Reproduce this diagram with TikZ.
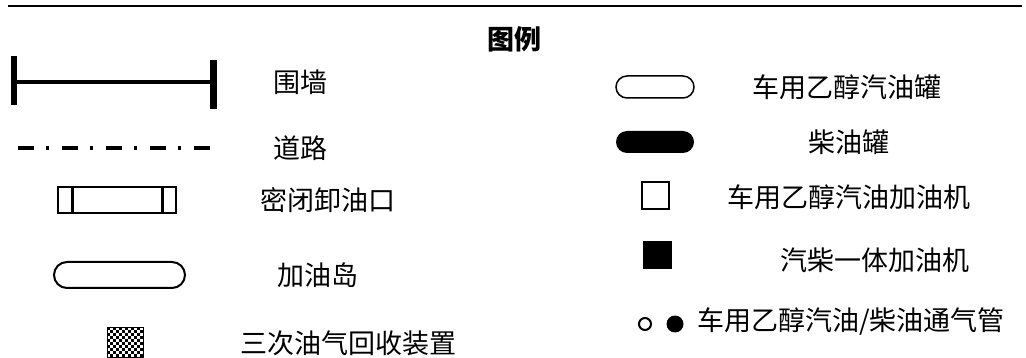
\documentclass[tikz,border=0pt]{standalone}
\usepackage{fontspec}
\setmainfont{Noto Sans CJK SC}

\begin{document}
\begin{tikzpicture}[x=1pt,y=-1pt,
    lbl/.style={anchor=west,inner sep=0pt,font=\fontsize{27}{32}\selectfont},
    ttl/.style={inner sep=0pt,font=\fontsize{27}{32}\selectfont\bfseries},
    edge/.style={line width=2pt}]
  \useasboundingbox (0,0) rectangle (1026,358);

  % top rule and title
  \draw[edge] (8,6) -- (1022,6);
  \node[ttl] (title) at (514,39) {图例};

  % left column symbols
  \fill (11,56) rectangle (17,105);
  \fill (210,60) rectangle (217,109);
  \draw[line width=4pt] (17,82) -- (210,82);                          % wall
  \draw[line width=4pt,dash pattern=on 16pt off 12pt on 3pt off 13pt]
    (18,148) -- (210,148);                                            % road
  \draw[line width=1.5pt] (58,187) rectangle (176,213);
  \draw[line width=3pt] (72,187) -- (72,213) (162,187) -- (162,213);   % unload
  \draw[edge,rounded corners=13pt] (54,262) rectangle (185,288);      % island
  \foreach \j in {0,...,9} {
    \foreach \i in {0,2,...,10} {
      \pgfmathtruncatemacro\k{\i+mod(\j,2)}
      \fill (107+3*\k,327+3*\j) rectangle ++(3,3);
    }
  }
  \draw[line width=1pt] (107,327) rectangle (143,357);                % vapour recovery

  % right column symbols
  \draw[line width=1.5pt,rounded corners=11pt] (616,76) rectangle (694,98);
  \fill[rounded corners=11pt] (616,131) rectangle (694,153);
  \draw[line width=2.5pt] (642,182) rectangle (669,209);
  \fill (643,241) rectangle (672,269);
  \draw[edge] (645,324) circle (6pt);
  \fill (675,324) circle (8.5pt);

  % labels
  \node[lbl] (wall)   at (273,82)  {围墙};
  \node[lbl] (road)   at (273,148) {道路};
  \node[lbl] (unload) at (260,200) {密闭卸油口};
  \node[lbl] (island) at (277,275) {加油岛};
  \node[lbl] (vapour) at (240,343) {三次油气回收装置};
  \node[lbl] (tankE)  at (752,87)  {车用乙醇汽油罐};
  \node[lbl] (tankD)  at (808,142) {柴油罐};
  \node[lbl] (dispE)  at (727,197) {车用乙醇汽油加油机};
  \node[lbl] (dispC)  at (780,260) {汽柴一体加油机};
  \node[lbl] (vent)   at (697,322) {车用乙醇汽油/柴油通气管};
\end{tikzpicture}
\end{document}
